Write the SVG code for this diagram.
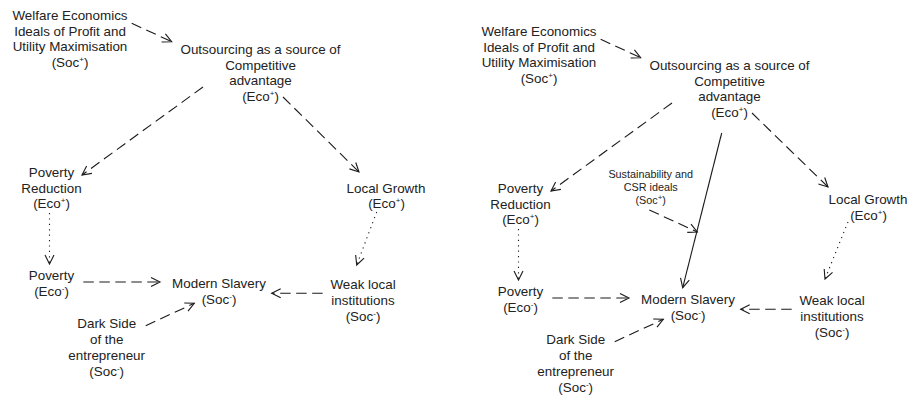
<svg xmlns="http://www.w3.org/2000/svg" width="908" height="398" viewBox="0 0 908 398">
<style>
text{font-family:"Liberation Sans",Arial,sans-serif;font-size:13.4px;fill:#222;text-anchor:middle}
text.s{font-size:10.8px}
tspan.u{font-size:8px}
.c{fill:none;stroke:#1a1a1a;stroke-width:1.1}
.d{stroke-dasharray:10.5 5.5}
.o{stroke-dasharray:1.2 4.2}
</style>
<defs>
<marker id="a" markerUnits="userSpaceOnUse" markerWidth="12" markerHeight="12" refX="10" refY="5" orient="auto" overflow="visible">
<path d="M1,0.5 L10,5 L1,9.5" fill="none" stroke="#1a1a1a" stroke-width="1.1"/>
</marker>
</defs>
<rect width="908" height="398" fill="#fff"/>

<!-- Left diagram -->
<g id="L-welfare"><text x="70" y="20">Welfare Economics</text><text x="70" y="35.5">Ideals of Profit and</text><text x="70" y="51">Utility Maximisation</text><text x="70" y="66.5">(Soc<tspan class="u" dy="-5">+</tspan><tspan dy="5">)</tspan></text></g>
<g id="L-outsourcing"><text x="260.5" y="54">Outsourcing as a source of</text><text x="260.5" y="69.5">Competitive</text><text x="260.5" y="85">advantage</text><text x="260.5" y="100.5">(Eco<tspan class="u" dy="-5">+</tspan><tspan dy="5">)</tspan></text></g>
<g id="L-povred"><text x="51.5" y="177">Poverty</text><text x="51.5" y="192.5">Reduction</text><text x="51.5" y="208">(Eco<tspan class="u" dy="-5">+</tspan><tspan dy="5">)</tspan></text></g>
<g id="L-growth"><text x="386" y="192.5">Local Growth</text><text x="386.5" y="208">(Eco<tspan class="u" dy="-5">+</tspan><tspan dy="5">)</tspan></text></g>
<g id="L-poverty"><text x="51.5" y="280">Poverty</text><text x="51.5" y="296">(Eco<tspan class="u" dy="-5">-</tspan><tspan dy="5">)</tspan></text></g>
<g id="L-slavery"><text x="219" y="288">Modern Slavery</text><text x="219" y="303.5">(Soc<tspan class="u" dy="-5">-</tspan><tspan dy="5">)</tspan></text></g>
<g id="L-weak"><text x="363" y="288.5">Weak local</text><text x="363" y="304.5">institutions</text><text x="363" y="320.5">(Soc<tspan class="u" dy="-5">-</tspan><tspan dy="5">)</tspan></text></g>
<g id="L-dark"><text x="106.7" y="327.5">Dark Side</text><text x="106.7" y="343.5">of the</text><text x="106.7" y="359.5">entrepreneur</text><text x="106.7" y="376">(Soc<tspan class="u" dy="-5">-</tspan><tspan dy="5">)</tspan></text></g>

<!-- Right diagram -->
<g id="R-welfare"><text x="539" y="36">Welfare Economics</text><text x="539" y="51.5">Ideals of Profit and</text><text x="539" y="67">Utility Maximisation</text><text x="539" y="82.5">(Soc<tspan class="u" dy="-5">+</tspan><tspan dy="5">)</tspan></text></g>
<g id="R-outsourcing"><text x="729.5" y="70">Outsourcing as a source of</text><text x="729.5" y="85.5">Competitive</text><text x="729.5" y="101">advantage</text><text x="729.5" y="116.5">(Eco<tspan class="u" dy="-5">+</tspan><tspan dy="5">)</tspan></text></g>
<g id="R-csr"><text class="s" x="650.7" y="178">Sustainability and</text><text class="s" x="650.7" y="191">CSR ideals</text><text class="s" x="650.7" y="204">(Soc<tspan class="u" font-size="6.5" dy="-4">+</tspan><tspan dy="4">)</tspan></text></g>
<g id="R-povred"><text x="520.5" y="193">Poverty</text><text x="520.5" y="208.5">Reduction</text><text x="520.5" y="224">(Eco<tspan class="u" dy="-5">+</tspan><tspan dy="5">)</tspan></text></g>
<g id="R-growth"><text x="868" y="203.5">Local Growth</text><text x="868.5" y="219.5">(Eco<tspan class="u" dy="-5">+</tspan><tspan dy="5">)</tspan></text></g>
<g id="R-poverty"><text x="520.5" y="296">Poverty</text><text x="520.5" y="312">(Eco<tspan class="u" dy="-5">-</tspan><tspan dy="5">)</tspan></text></g>
<g id="R-slavery"><text x="688" y="304">Modern Slavery</text><text x="688" y="319.5">(Soc<tspan class="u" dy="-5">-</tspan><tspan dy="5">)</tspan></text></g>
<g id="R-weak"><text x="832" y="304.5">Weak local</text><text x="832" y="320.5">institutions</text><text x="832" y="336.5">(Soc<tspan class="u" dy="-5">-</tspan><tspan dy="5">)</tspan></text></g>
<g id="R-dark"><text x="575.7" y="343.5">Dark Side</text><text x="575.7" y="359.5">of the</text><text x="575.7" y="375.5">entrepreneur</text><text x="575.7" y="392">(Soc<tspan class="u" dy="-5">-</tspan><tspan dy="5">)</tspan></text></g>

<g id="connectors" marker-end="url(#a)">
<!-- left -->
<path class="c d" d="M131.7,23.3 L171.7,41.7" marker-end="url(#a)"/>
<path class="c d" d="M203,87 L82,175" marker-end="url(#a)"/>
<path class="c d" d="M283,97 L359,172" marker-end="url(#a)"/>
<path class="c o" d="M49.5,213 L49.5,264" marker-end="url(#a)"/>
<path class="c o" d="M376.7,212 L356.7,265" marker-end="url(#a)"/>
<path class="c d" d="M83.3,282 L160,282" marker-end="url(#a)"/>
<path class="c d" d="M322.7,293.3 L271.7,293.3" marker-end="url(#a)"/>
<path class="c d" d="M145.7,325.7 L194.3,303.3" marker-end="url(#a)"/>
<!-- right -->
<path class="c d" d="M600.7,39.3 L640.7,57.7" marker-end="url(#a)"/>
<path class="c d" d="M672,103 L551,191" marker-end="url(#a)"/>
<path class="c d" d="M752,113 L828,187" marker-end="url(#a)"/>
<path class="c o" d="M518.5,229 L518.5,280" marker-end="url(#a)"/>
<path class="c o" d="M848,222 L825,279" marker-end="url(#a)"/>
<path class="c d" d="M552.3,298 L629,298" marker-end="url(#a)"/>
<path class="c d" d="M791.7,309.3 L740.7,309.3" marker-end="url(#a)"/>
<path class="c d" d="M614.7,341.7 L663.3,319.3" marker-end="url(#a)"/>
<path class="c" d="M721.7,133 L682.7,287.7" marker-end="url(#a)"/>
<path class="c d" d="M649.3,210 L697.3,232" marker-end="url(#a)"/>
</g>
</svg>
